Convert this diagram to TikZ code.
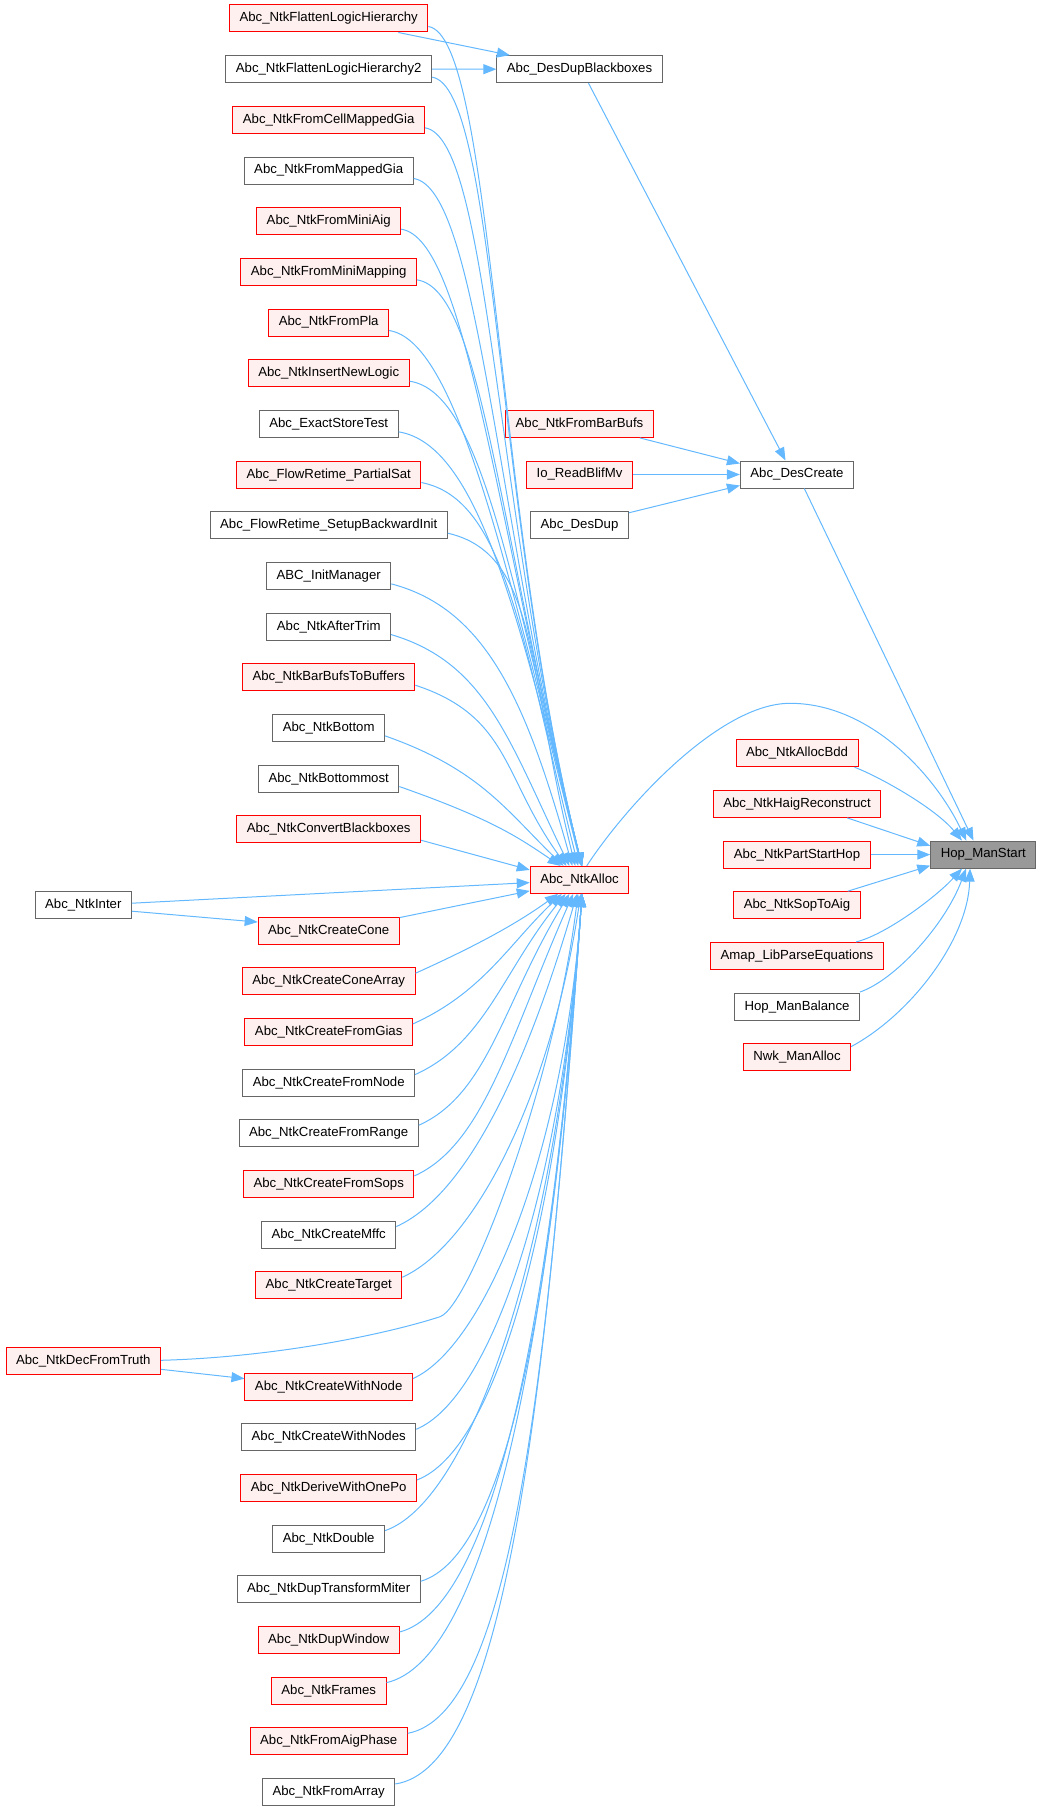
\documentclass[tikz,border=0pt]{standalone}
\usepackage{fontspec}
\setmainfont{Liberation Sans}
\usetikzlibrary{arrows.meta,calc}
\definecolor{edgec}{HTML}{63B8FF}
\definecolor{redfill}{HTML}{FFF0F0}
\definecolor{grayb}{HTML}{666666}
\definecolor{rootfill}{HTML}{999999}
\begin{document}
\begin{tikzpicture}[x=1pt,y=-1pt,
 box/.style={draw, line width=1pt, minimum height=27pt, inner xsep=10pt, inner ysep=0pt, font=\fontsize{13.2}{15}\selectfont, text=black},
 rnode/.style={box, draw=red, fill=redfill},
 gnode/.style={box, draw=grayb, fill=white},
 rootnode/.style={box, draw=grayb, fill=rootfill},
 edge/.style={draw=edgec, line width=1pt, -{Triangle[length=13pt,width=10pt]}}]
\useasboundingbox (0,0) rectangle (1041,1811);
% left column
\node[rnode] (L0) at (328.7,{18.5+50.67*0}) {Abc\_NtkFlattenLogicHierarchy};
\node[gnode] (L1) at (328.7,{18.5+50.67*1}) {Abc\_NtkFlattenLogicHierarchy2};
\node[rnode] (L2) at (328.7,{18.5+50.67*2}) {Abc\_NtkFromCellMappedGia};
\node[gnode] (L3) at (328.7,{18.5+50.67*3}) {Abc\_NtkFromMappedGia};
\node[rnode] (L4) at (328.7,{18.5+50.67*4}) {Abc\_NtkFromMiniAig};
\node[rnode] (L5) at (328.7,{18.5+50.67*5}) {Abc\_NtkFromMiniMapping};
\node[rnode] (L6) at (328.7,{18.5+50.67*6}) {Abc\_NtkFromPla};
\node[rnode] (L7) at (328.7,{18.5+50.67*7}) {Abc\_NtkInsertNewLogic};
\node[gnode] (L8) at (328.7,{18.5+50.67*8}) {Abc\_ExactStoreTest};
\node[rnode] (L9) at (328.7,{18.5+50.67*9}) {Abc\_FlowRetime\_PartialSat};
\node[gnode] (L10) at (328.7,{18.5+50.67*10}) {Abc\_FlowRetime\_SetupBackwardInit};
\node[gnode] (L11) at (328.7,{18.5+50.67*11}) {ABC\_InitManager};
\node[gnode] (L12) at (328.7,{18.5+50.67*12}) {Abc\_NtkAfterTrim};
\node[rnode] (L13) at (328.7,{18.5+50.67*13}) {Abc\_NtkBarBufsToBuffers};
\node[gnode] (L14) at (328.7,{18.5+50.67*14}) {Abc\_NtkBottom};
\node[gnode] (L15) at (328.7,{18.5+50.67*15}) {Abc\_NtkBottommost};
\node[rnode] (L16) at (328.7,{18.5+50.67*16}) {Abc\_NtkConvertBlackboxes};
\node[rnode] (L18) at (328.7,{18.5+50.67*18}) {Abc\_NtkCreateCone};
\node[rnode] (L19) at (328.7,{18.5+50.67*19}) {Abc\_NtkCreateConeArray};
\node[rnode] (L20) at (328.7,{18.5+50.67*20}) {Abc\_NtkCreateFromGias};
\node[gnode] (L21) at (328.7,{18.5+50.67*21}) {Abc\_NtkCreateFromNode};
\node[gnode] (L22) at (328.7,{18.5+50.67*22}) {Abc\_NtkCreateFromRange};
\node[rnode] (L23) at (328.7,{18.5+50.67*23}) {Abc\_NtkCreateFromSops};
\node[gnode] (L24) at (328.7,{18.5+50.67*24}) {Abc\_NtkCreateMffc};
\node[rnode] (L25) at (328.7,{18.5+50.67*25}) {Abc\_NtkCreateTarget};
\node[rnode] (L27) at (328.7,{18.5+50.67*27}) {Abc\_NtkCreateWithNode};
\node[gnode] (L28) at (328.7,{18.5+50.67*28}) {Abc\_NtkCreateWithNodes};
\node[rnode] (L29) at (328.7,{18.5+50.67*29}) {Abc\_NtkDeriveWithOnePo};
\node[gnode] (L30) at (328.7,{18.5+50.67*30}) {Abc\_NtkDouble};
\node[gnode] (L31) at (328.7,{18.5+50.67*31}) {Abc\_NtkDupTransformMiter};
\node[rnode] (L32) at (328.7,{18.5+50.67*32}) {Abc\_NtkDupWindow};
\node[rnode] (L33) at (328.7,{18.5+50.67*33}) {Abc\_NtkFrames};
\node[rnode] (L34) at (328.7,{18.5+50.67*34}) {Abc\_NtkFromAigPhase};
\node[gnode] (L35) at (328.7,{18.5+50.67*35}) {Abc\_NtkFromArray};
% far left
\node[gnode] (NI) at (83.3,905.2) {Abc\_NtkInter};
\node[rnode] (DT) at (83.3,1361.3) {Abc\_NtkDecFromTruth};
% middle column
\node[gnode] (DDB) at (579.5,69.2) {Abc\_DesDupBlackboxes};
\node[rnode] (BB) at (579.5,423.9) {Abc\_NtkFromBarBufs};
\node[rnode] (IO) at (579.5,474.5) {Io\_ReadBlifMv};
\node[gnode] (DD) at (579.5,525.2) {Abc\_DesDup};
\node[rnode] (NA) at (579.5,879.9) {Abc\_NtkAlloc};
\node[gnode] (DC) at (797,474.5) {Abc\_DesCreate};
% right column
\node[rnode] (AB) at (797,753.2) {Abc\_NtkAllocBdd};
\node[rnode] (HR) at (797,803.9) {Abc\_NtkHaigReconstruct};
\node[rnode] (PS) at (797,854.6) {Abc\_NtkPartStartHop};
\node[rnode] (SA) at (797,905.2) {Abc\_NtkSopToAig};
\node[rnode] (AP) at (797,955.9) {Amap\_LibParseEquations};
\node[gnode] (HB) at (797,1006.6) {Hop\_ManBalance};
\node[rnode] (NW) at (797,1057.2) {Nwk\_ManAlloc};
\node[rootnode] (HM) at (983.3,854.6) {Hop\_ManStart};

% edges from upper left column to NtkAlloc
\foreach \k in {0,...,15}{
 \pgfmathsetmacro\dy{866.7-(26.5+50.67*\k)}
 \pgfmathsetmacro\xo{-23.5+26*min(1,\dy/450)}
 \pgfmathsetmacro\th{min(76,35+(\dy-86)*0.2)}
 \pgfmathsetmacro\LL{min(0.6*\dy,360)}
 \pgfmathsetmacro\hh{95-30*min(1,max(0,(\dy-300)/250))}
 \pgfmathsetmacro\dd{\hh*(0.35-0.2*min(1,max(0,(\dy-150)/300)))}
 \draw[edge] ($(L\k.east)+(0,8)$) .. controls ($(L\k.east)+(\hh,8+\dd)$) and ($(NA.north)+(\xo,0)+({-\LL*cos(\th)},{-\LL*sin(\th)})$) .. ($(NA.north)+(\xo,0)$);
}
% edges from lower left column to NtkAlloc
\foreach \k in {19,...,25,27,28,...,35}{
 \pgfmathsetmacro\dy{(10.5+50.67*\k)-893.3}
 \pgfmathsetmacro\xo{-27.5+30*min(1,\dy/400)}
 \pgfmathsetmacro\th{min(86,35+(\dy-75)*0.15)}
 \pgfmathsetmacro\ff{min(1,max(0,(\dy-490)/400))}
 \pgfmathsetmacro\LL{(0.55+0.07*\ff)*\dy}
 \pgfmathsetmacro\hh{70+35*\ff}
 \pgfmathsetmacro\dd{\hh*(0.45-0.3*\ff)}
 \draw[edge] ($(L\k.east)+(0,-8)$) .. controls ($(L\k.east)+(\hh,-8-\dd)$) and ($(NA.south)+(\xo,0)+({-\LL*cos(\th)},{\LL*sin(\th)})$) .. ($(NA.south)+(\xo,0)$);
}
\draw[edge] ($(L16.east)+(0,11)$) -- ($(NA.west)+(0,-10)$);
\draw[edge] ($(NI.east)+(0,-2)$) -- ($(NA.west)+(0,2.7)$);
\draw[edge] ($(NI.east)+(0,6)$) -- ($(L18.west)+(0,-8.5)$);
\draw[edge] ($(L18.east)+(0,-13)$) -- ($(NA.west)+(0,11)$);
\draw[edge] ($(DT.east)+(0,-1)$) .. controls (280,1357) and (390,1333) .. (440,1316.7) .. controls (470,1306.7) and (555,1080) .. ($(NA.south)+(-1.5,0)$);
\draw[edge] ($(DT.east)+(0,8)$) -- ($(L27.west)+(0,-8)$);

% to DesDupBlackboxes and DesCreate
\draw[edge] ($(L0.south east)+(-30,0)$) -- ($(DDB.north west)+(13.5,0)$);
\draw[edge] (L1.east) -- (DDB.west);
\draw[edge] ($(DDB.south)+(9,0)$) -- ($(DC.north)+(-11.5,0)$);
\draw[edge] ($(BB.south east)+(-14,0)$) -- ($(DC.west)+(0,-11)$);
\draw[edge] (IO.east) -- (DC.west);
\draw[edge] ($(DD.north east)+(0,1.6)$) -- ($(DC.west)+(0,11)$);

% to Hop_ManStart
\draw[edge] ($(DC.south)+(7.3,0)$) -- ($(HM.north)+(-9.8,0)$);
\draw[edge] ($(NA.north)+(7.2,0)$) .. controls (626.7,804.7) and (720,703.3) .. (790,703.3) .. controls (870,703.3) and (935,775) .. ($(HM.north)+(-17,0)$);
\draw[edge] ($(AB.south east)+(-4,0)$) .. controls (880,777) and (935,808) .. ($(HM.north)+(-21.3,0)$);
\draw[edge] ($(HR.south east)+(-34,0)$) -- ($(HM.west)+(0,-8.8)$);
\draw[edge] (PS.east) -- (HM.west);
\draw[edge] ($(SA.north east)+(-13,0)$) -- ($(HM.west)+(0,11)$);
\draw[edge] ($(AP.north east)+(-27.7,0)$) .. controls (885,935) and (935,898) .. ($(HM.south)+(-21.3,0)$);
\draw[edge] ($(HB.north east)+(0,-0.6)$) .. controls (895,980) and (945,925) .. ($(HM.south)+(-17.3,0)$);
\draw[edge] ($(NW.east)+(0,-10.6)$) .. controls (910,1015) and (968,940) .. ($(HM.south)+(-13.3,0)$);
\end{tikzpicture}
\end{document}
